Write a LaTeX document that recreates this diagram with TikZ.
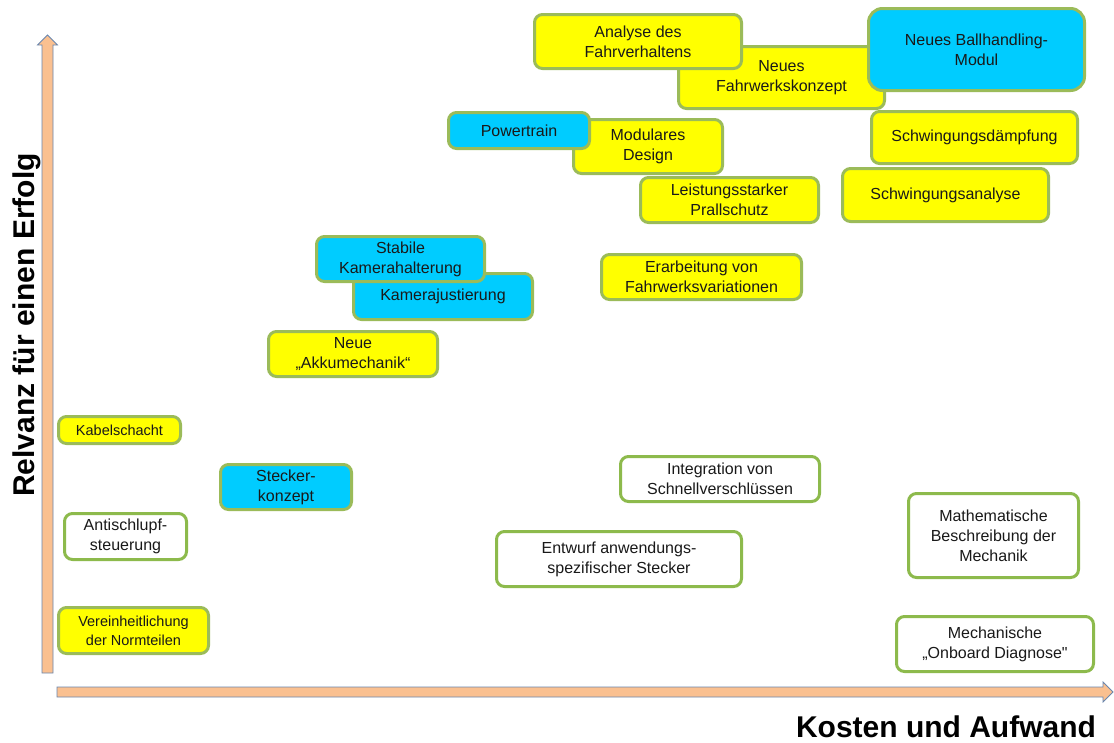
\documentclass[tikz,border=0pt]{standalone}
\usepackage{fontspec}
\setmainfont{Liberation Sans}[Ligatures=TeXOff]
\definecolor{boxgreen}{HTML}{9BBB59}
\definecolor{wgreen}{HTML}{8DBA4C}
\definecolor{boxyellow}{HTML}{FFFF00}
\definecolor{boxcyan}{HTML}{00CCFF}
\definecolor{arrowfill}{HTML}{FAC090}
\definecolor{arrowline}{HTML}{6A86AE}
\newcommand{\boxfont}{\fontsize{16}{20}\selectfont}
\newcommand{\smallboxfont}{\fontsize{14.5}{19}\selectfont}
\newcommand{\axisfont}{\fontsize{30}{36}\selectfont\bfseries}
\tikzset{
  card/.style={draw=boxgreen, line width=3pt, rounded corners=8pt, align=center,
    font=\boxfont, inner sep=0pt, text=black!90},
  ycard/.style={card, fill=boxyellow},
  ccard/.style={card, fill=boxcyan},
  wcard/.style={card, draw=wgreen, fill=white},
  axisarrow/.style={fill=arrowfill, draw=arrowline, line width=0.8pt, line join=miter},
  axislabel/.style={font=\axisfont, text=black, inner sep=0pt}
}
\begin{document}
\begin{tikzpicture}[x=1pt,y=-1pt]
\useasboundingbox (0,0) rectangle (1114,742);
\fill[white] (0,0) rectangle (1114,742);
% axes
\coordinate (ytip) at (47.5,35);
\coordinate (xtip) at (1113,692);
\draw[axisarrow] (42,673) -- (42,45) -- (37.5,45) -- (ytip) -- (57.5,45) -- (53,45) -- (53,673) -- cycle;
\draw[axisarrow] (57,687) -- (1103,687) -- (1103,682) -- (xtip) -- (1103,702) -- (1103,697) -- (57,697) -- cycle;
\node[axislabel, rotate=90] (ylab) at (27,325) {Relvanz für einen Erfolg};
\node[axislabel] (xlab) at (946,727) {Kosten und Aufwand};
% boxes (order matters for overlaps)
\node[ycard, minimum width=206, minimum height=62] (fahrwerk) at (781.5,77.5) {Neues\\Fahrwerkskonzept};
\node[ycard, minimum width=207, minimum height=54] (analyse) at (638,41.5) {Analyse des\\Fahrverhaltens};
\node[ccard, rounded corners=14pt, minimum width=216, minimum height=82] (ball) at (976.5,49.5) {Neues Ballhandling-\\Modul};
\node[ycard, minimum width=149, minimum height=54] (modular) at (648,146.5) {Modulares\\Design};
\node[ccard, minimum width=141, minimum height=36] (power) at (519,130.5) {Powertrain};
\node[ycard, minimum width=178, minimum height=45] (prall) at (729.5,200) {Leistungsstarker\\Prallschutz};
\node[ycard, minimum width=206, minimum height=52] (daempf) at (974.5,137.5) {Schwingungsdämpfung};
\node[ycard, minimum width=206, minimum height=53] (schwana) at (945.5,195) {Schwingungsanalyse};
\node[ccard, minimum width=179, minimum height=46] (kamjust) at (443,296.5) {Kamerajustierung};
\node[ccard, minimum width=168, minimum height=45] (kamhalt) at (400.5,259) {Stabile\\Kamerahalterung};
\node[ycard, minimum width=169, minimum height=45] (akku) at (353,354) {Neue\\„Akkumechanik“};
\node[ycard, minimum width=200, minimum height=45] (erarb) at (701.5,277) {Erarbeitung von\\Fahrwerksvariationen};
\node[ycard, font=\smallboxfont, minimum width=122, minimum height=27] (kabel) at (119.5,430) {Kabelschacht};
\node[ccard, minimum width=131, minimum height=45] (stecker) at (286,487) {Stecker-\\konzept};
\node[wcard, minimum width=122, minimum height=46] (anti) at (125.5,536.5) {Antischlupf-\\steuerung};
\node[ycard, font=\smallboxfont, minimum width=150, minimum height=46] (verein) at (133.5,630.5) {Vereinheitlichung\\der Normteilen};
\node[wcard, minimum width=199, minimum height=45] (integ) at (720,479) {Integration von\\Schnellverschlüssen};
\node[wcard, minimum width=245, minimum height=55] (entwurf) at (619,559) {Entwurf anwendungs-\\spezifischer Stecker};
\node[wcard, minimum width=170, minimum height=84] (mathe) at (993.5,535.5) {Mathematische\\Beschreibung der\\Mechanik};
\node[wcard, minimum width=197, minimum height=55] (onboard) at (995,644) {Mechanische\\„Onboard Diagnose"};
\end{tikzpicture}
\end{document}
